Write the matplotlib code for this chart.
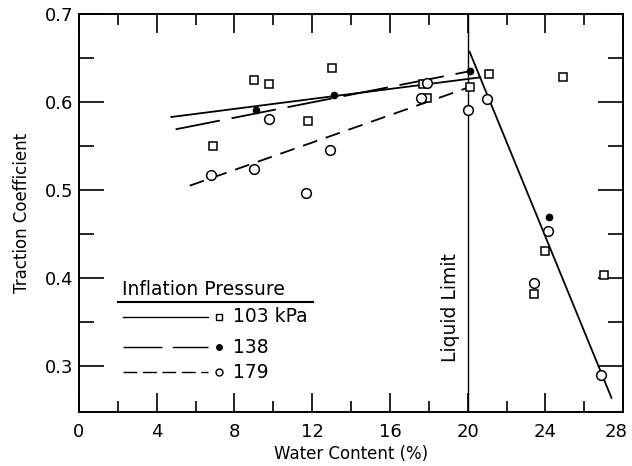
import numpy as np
import matplotlib
matplotlib.use('Agg')
import matplotlib.pyplot as plt
import matplotlib.transforms as mtransforms
from matplotlib.ticker import FixedLocator

# data
# 103 kPa (open squares)
x_103 = [6.9, 9.0, 9.8, 11.8, 13.0, 17.7, 17.9, 20.1, 21.1, 24.0, 23.4, 24.9, 27.0]
y_103 = [0.550, 0.625, 0.620, 0.579, 0.639, 0.620, 0.605, 0.617, 0.632, 0.431, 0.382, 0.628, 0.404]
# 138 kPa (filled dots)
x_138 = [9.1, 13.1, 20.1, 24.2]
y_138 = [0.591, 0.608, 0.635, 0.469]
# 179 kPa (open circles)
x_179 = [6.8, 9.0, 9.8, 11.7, 12.9, 17.6, 17.9, 20.0, 21.0, 24.15, 23.4, 26.85]
y_179 = [0.517, 0.524, 0.581, 0.497, 0.546, 0.605, 0.622, 0.591, 0.604, 0.454, 0.394, 0.290]

# fitted lines (end points)
fit_103_x = [4.75, 20.65]
fit_103_y = [0.583, 0.628]
fit_138_x = [4.97, 20.1]
fit_138_y = [0.569, 0.635]
fit_179_x = [5.7, 20.1]
fit_179_y = [0.505, 0.617]
fit_wet_x = [20.1, 27.4]
fit_wet_y = [0.657, 0.264]

liquid_limit = 20

x_ticks = [0, 4, 8, 12, 16, 20, 24, 28]
x_minor = [2, 6, 10, 14, 18, 22, 26]
y_ticks = [0.3, 0.4, 0.5, 0.6, 0.7]
y_minor = [0.35, 0.45, 0.55, 0.65]

plt.rcParams['font.family'] = 'DejaVu Sans'
fig = plt.figure(figsize=(6.32, 4.66), dpi=100)
ax = fig.add_axes([0.125, 0.116, 0.861, 0.854])

lw = 1.3
ax.plot(fit_103_x, fit_103_y, color='black', lw=lw)
ax.plot(fit_138_x, fit_138_y, color='black', lw=lw, linestyle=(0, (25, 6.6)))
ax.plot(fit_179_x, fit_179_y, color='black', lw=lw, linestyle=(0, (8.3, 5)))
ax.plot(fit_wet_x, fit_wet_y, color='black', lw=lw)
ax.axvline(liquid_limit, color='black', lw=1.0)

ax.plot(x_103, y_103, 's', ms=6, mfc='white', mec='black', mew=1.1, ls='none', zorder=3)
ax.plot(x_179, y_179, 'o', ms=7, mfc='white', mec='black', mew=1.1, ls='none', zorder=3)
ax.plot(x_138, y_138, 'o', ms=4.5, mfc='black', mec='black', ls='none', zorder=4)

ax.text(liquid_limit - 0.4, 0.367, 'Liquid Limit', rotation=90, ha='right', va='center',
        fontsize=13.5)

# hand-drawn style legend
tr = ax.transAxes
ax.text(0.079, 0.307, 'Inflation Pressure', transform=tr, fontsize=13.5, ha='left', va='center')
ax.plot([0.072, 0.430], [0.276, 0.276], transform=tr, color='black', lw=1.5)
rows = [
    (0.239, '-', 's', 'white', 4.5, '103 kPa'),
    (0.163, (0, (28, 7.5)), 'o', 'black', 4, '138'),
    (0.100, (0, (10, 4)), 'o', 'white', 5, '179'),
]
for yy, ls, mk, fc, ms, lab in rows:
    ax.plot([0.081, 0.237], [yy, yy], transform=tr, color='black', lw=1.0, linestyle=ls)
    ax.plot([0.257], [yy], transform=tr, marker=mk, ms=ms, mfc=fc, mec='black', mew=1.0)
    ax.text(0.283, yy, lab, transform=tr, fontsize=13.5, ha='left', va='center')

ax.set_xlim(0, 28)
ax.set_ylim(0.248, 0.7)
ax.xaxis.set_major_locator(FixedLocator(x_ticks))
ax.xaxis.set_minor_locator(FixedLocator(x_minor))
ax.yaxis.set_major_locator(FixedLocator(y_ticks))
ax.yaxis.set_minor_locator(FixedLocator(y_minor))
ax.set_xticklabels([str(v) for v in x_ticks])
ax.set_yticklabels([f'{v:.1f}' for v in y_ticks])
ax.tick_params(axis='both', which='both', direction='in', top=True, right=True, width=1.2)
ax.tick_params(axis='x', which='major', length=14, labelsize=13, pad=8)
ax.tick_params(axis='x', which='minor', length=8)
ax.tick_params(axis='y', which='major', length=18, labelsize=13, pad=4)
ax.tick_params(axis='y', which='minor', length=11)
for s in ax.spines.values():
    s.set_linewidth(1.4)

ax.set_xlabel('Water Content (%)', fontsize=12, labelpad=3)
ax.set_ylabel('Traction Coefficient', fontsize=12, labelpad=10)

# the last x label sits a bit left so it stays inside the picture
fig.canvas.draw()
last = ax.xaxis.get_major_ticks()[-1].label1
last.set_transform(last.get_transform() + mtransforms.ScaledTranslation(-7 / 100, 0, fig.dpi_scale_trans))

fig.savefig('out.png', dpi=100)
